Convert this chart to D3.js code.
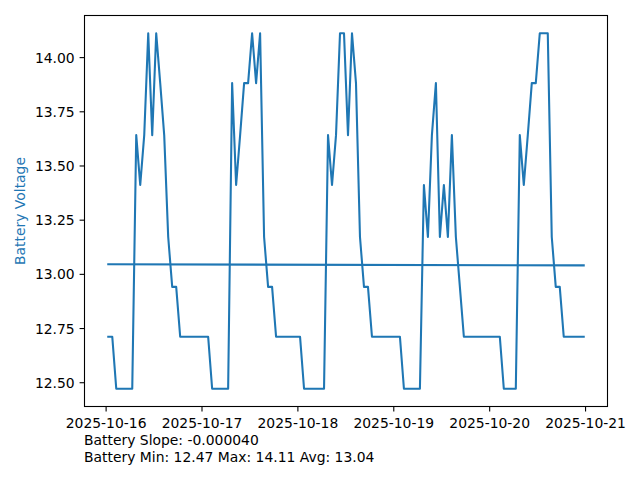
<!DOCTYPE html>
<html>
<head>
<meta charset="utf-8">
<script src="https://cdn.jsdelivr.net/npm/d3@7"></script>
<style>
  html, body { margin: 0; padding: 0; background: #fff; }
  svg { display: block; }
  text { font-family: "DejaVu Sans", sans-serif; }
</style>
</head>
<body>
<svg id="chart" width="640" height="480"></svg>
<script>
// ---- data (vertices of the battery voltage trace) ----
const times = [
  "2025-10-16 00:40","2025-10-16 01:40","2025-10-16 02:40","2025-10-16 06:40","2025-10-16 07:40",
  "2025-10-16 08:40","2025-10-16 09:40","2025-10-16 10:40","2025-10-16 11:40","2025-10-16 12:40",
  "2025-10-16 13:40","2025-10-16 14:40","2025-10-16 15:40","2025-10-16 16:40","2025-10-16 17:40",
  "2025-10-16 18:40","2025-10-17 01:40","2025-10-17 02:40","2025-10-17 06:40","2025-10-17 07:40",
  "2025-10-17 08:40","2025-10-17 09:40","2025-10-17 10:40","2025-10-17 11:40","2025-10-17 12:40",
  "2025-10-17 13:40","2025-10-17 14:40","2025-10-17 15:40","2025-10-17 16:40","2025-10-17 17:40",
  "2025-10-17 18:40","2025-10-18 00:40","2025-10-18 01:40","2025-10-18 06:40","2025-10-18 07:40",
  "2025-10-18 08:40","2025-10-18 09:40","2025-10-18 10:40","2025-10-18 11:40","2025-10-18 12:40",
  "2025-10-18 13:40","2025-10-18 14:40","2025-10-18 15:40","2025-10-18 16:40","2025-10-18 17:40",
  "2025-10-18 18:40","2025-10-19 01:40","2025-10-19 02:40","2025-10-19 06:40","2025-10-19 07:40",
  "2025-10-19 08:40","2025-10-19 09:40","2025-10-19 10:40","2025-10-19 11:40","2025-10-19 12:40",
  "2025-10-19 13:40","2025-10-19 14:40","2025-10-19 15:40","2025-10-19 16:40","2025-10-19 17:40",
  "2025-10-20 02:40","2025-10-20 03:40","2025-10-20 06:40","2025-10-20 07:40","2025-10-20 08:40",
  "2025-10-20 09:40","2025-10-20 10:40","2025-10-20 11:40","2025-10-20 12:40","2025-10-20 14:40",
  "2025-10-20 15:40","2025-10-20 16:40","2025-10-20 17:40","2025-10-20 18:40","2025-10-20 23:40"
];
const volts = [
  12.71,12.71,12.47,12.47,13.64,
  13.41,13.64,14.11,13.64,14.11,
  13.88,13.64,13.17,12.94,12.94,
  12.71,12.71,12.47,12.47,13.88,
  13.41,13.64,13.88,13.88,14.11,
  13.88,14.11,13.17,12.94,12.94,
  12.71,12.71,12.47,12.47,13.64,
  13.41,13.64,14.11,14.11,13.64,
  14.11,13.88,13.17,12.94,12.94,
  12.71,12.71,12.47,12.47,13.41,
  13.17,13.64,13.88,13.17,13.41,
  13.17,13.64,13.17,12.94,12.71,
  12.71,12.47,12.47,13.64,13.41,
  13.64,13.88,13.88,14.11,14.11,
  13.17,12.94,12.94,12.71,12.71
];
const trendValues = [13.044, 13.039];  // regression line at first and last time
const xTickLabels = ["2025-10-16","2025-10-17","2025-10-18","2025-10-19","2025-10-20","2025-10-21"];
const yTickValues = [12.50, 12.75, 13.00, 13.25, 13.50, 13.75, 14.00];
const yLabel = "Battery Voltage";
const footerLines = ["Battery Slope: -0.000040", "Battery Min: 12.47 Max: 14.11 Avg: 13.04"];

// ---- layout ----
const svg = d3.select("#chart");
const L = 84.5, R = 607.5, T = 15.5, B = 406.5;
const blue = "#1f77b4";
const fs = 13.9;

const parseT = d3.utcParse("%Y-%m-%d %H:%M");
const parseD = d3.utcParse("%Y-%m-%d");
const data = times.map((t, i) => ({ t: parseT(t), v: volts[i] }));

const tExt = d3.extent(data, d => d.t);
const tSpan = tExt[1] - tExt[0];
const vExt = d3.extent(data, d => d.v);
const vSpan = vExt[1] - vExt[0];

const x = d3.scaleUtc()
  .domain([new Date(+tExt[0] - 0.05 * tSpan), new Date(+tExt[1] + 0.05 * tSpan)])
  .range([L, R]);
const y = d3.scaleLinear()
  .domain([vExt[0] - 0.05 * vSpan, vExt[1] + 0.05 * vSpan])
  .range([B, T]);

// trend line
const trend = [{ t: tExt[0], v: trendValues[0] }, { t: tExt[1], v: trendValues[1] }];
const lineGen = d3.line().x(d => x(d.t)).y(d => y(d.v));

svg.append("path")
  .datum(data)
  .attr("d", lineGen)
  .attr("fill", "none")
  .attr("stroke", blue)
  .attr("stroke-width", 2.08)
  .attr("stroke-linejoin", "round")
  .attr("stroke-linecap", "square");

svg.append("path")
  .datum(trend)
  .attr("d", lineGen)
  .attr("fill", "none")
  .attr("stroke", blue)
  .attr("stroke-width", 2.08)
  .attr("stroke-linecap", "square");

// axes
const xAxis = d3.axisBottom(x)
  .tickValues(xTickLabels.map(parseD))
  .tickFormat(d3.utcFormat("%Y-%m-%d"))
  .tickSize(4.9).tickPadding(4.9);
const gx = svg.append("g").attr("transform", `translate(0,${B})`).call(xAxis);
gx.select(".domain").remove();
gx.selectAll("line").attr("stroke", "#000").attr("stroke-width", 1.1);
gx.selectAll("text").attr("font-size", fs).attr("fill", "#000")
  .attr("font-family", "DejaVu Sans").attr("dy", null).attr("y", 0)
  .attr("transform", "translate(0,21.5)");

const yAxis = d3.axisLeft(y)
  .tickValues(yTickValues)
  .tickFormat(d3.format(".2f"))
  .tickSize(4.9).tickPadding(4.9);
const gy = svg.append("g").attr("transform", `translate(${L},0)`).call(yAxis);
gy.select(".domain").remove();
gy.selectAll("line").attr("stroke", "#000").attr("stroke-width", 1.1);
gy.selectAll("text").attr("font-size", fs).attr("fill", "#000")
  .attr("font-family", "DejaVu Sans").attr("dy", "0.36em");

// spines
svg.append("rect")
  .attr("x", L).attr("y", T).attr("width", R - L).attr("height", B - T)
  .attr("fill", "none").attr("stroke", "#000").attr("stroke-width", 1.1);

// y label
svg.append("text")
  .attr("transform", `translate(25,${(T + B) / 2}) rotate(-90)`)
  .attr("text-anchor", "middle")
  .attr("font-size", fs)
  .attr("fill", blue)
  .text(yLabel);

// footer text
svg.selectAll("text.footer")
  .data(footerLines)
  .enter().append("text")
  .attr("class", "footer")
  .attr("x", 84)
  .attr("y", (d, i) => 445 + i * 17)
  .attr("font-size", fs)
  .attr("fill", "#000")
  .text(d => d);
</script>
</body>
</html>
